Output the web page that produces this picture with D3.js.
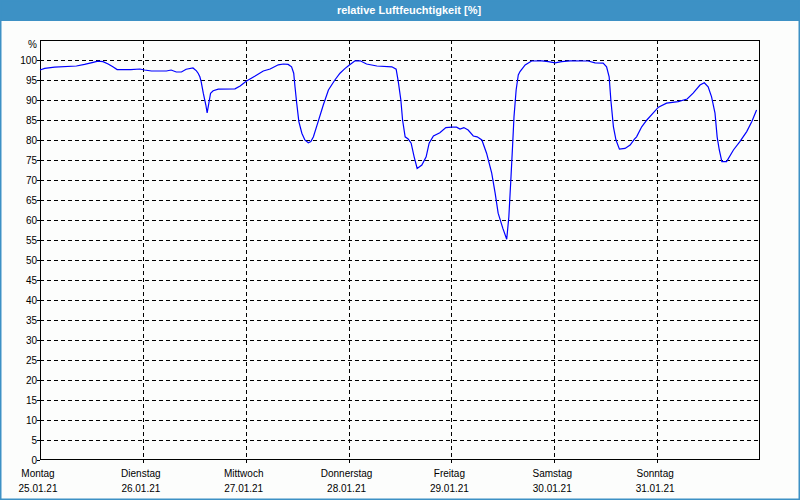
<!DOCTYPE html>
<html>
<head>
<meta charset="utf-8">
<script src="https://cdn.jsdelivr.net/npm/d3@7"></script>
<style>
  html, body { margin: 0; padding: 0; background: #ffffff; }
  svg { display: block; }
  text { font-family: "Liberation Sans", Arial, sans-serif; }
</style>
</head>
<body>
<svg id="chart" width="800" height="500"></svg>
<script>
// ---- data ----
const title = "relative Luftfeuchtigkeit [%]";
const unitLabel = "%";
const dayNames = ["Montag", "Dienstag", "Mittwoch", "Donnerstag", "Freitag", "Samstag", "Sonntag"];
const dayDates = ["25.01.21", "26.01.21", "27.01.21", "28.01.21", "29.01.21", "30.01.21", "31.01.21"];
const yTicks = [0, 5, 10, 15, 20, 25, 30, 35, 40, 45, 50, 55, 60, 65, 70, 75, 80, 85, 90, 95, 100];
// hours since Monday 25.01.21 00:00
const hours = [0, 1.1, 3.4, 8.5, 10.4, 12.4, 13.5, 14.7, 15.9, 17.0, 18.0, 21.2, 23.3, 24.4, 26.0, 29.5, 30.6, 31.8, 33.0, 34.1, 35.7, 36.5, 36.9, 37.3, 37.6, 38.1, 38.7, 39.0, 39.4, 39.8, 40.4, 41.6, 45.5, 46.7, 48.2, 50.2, 52.1, 53.7, 55.6, 56.8, 57.9, 58.7, 59.2, 59.5, 59.9, 60.4, 61.1, 61.8, 62.6, 63.2, 63.8, 64.9, 66.1, 67.3, 68.8, 70.0, 71.2, 72.2, 73.5, 74.7, 76.2, 78.6, 82.1, 83.1, 83.6, 84.2, 84.6, 85.2, 85.9, 86.6, 87.3, 88.0, 89.1, 90.1, 90.8, 91.8, 93.3, 94.7, 96.1, 97.2, 98.0, 98.9, 99.9, 101.1, 102.0, 103.1, 104.2, 105.4, 106.2, 106.9, 108.0, 108.9, 109.4, 109.9, 110.3, 110.6, 111.1, 111.6, 112.0, 113.2, 114.7, 117.1, 118.6, 120.2, 121.7, 123.7, 127.9, 129.5, 131.4, 132.2, 132.8, 133.2, 133.8, 134.4, 135.2, 136.5, 137.7, 138.7, 139.2, 140.4, 141.6, 143.1, 144.3, 146.2, 148.9, 151.0, 152.4, 154.0, 155.0, 155.9, 156.7, 157.5, 158.0, 158.5, 159.1, 160.2, 161.8, 163.3, 164.9, 166.1, 167.2];
const humidity = [97.5, 97.9, 98.2, 98.5, 98.9, 99.4, 99.7, 99.6, 99.0, 98.3, 97.6, 97.6, 97.75, 97.5, 97.25, 97.25, 97.5, 97.0, 97.0, 97.7, 98.0, 97.3, 96.7, 95.8, 94.6, 91.7, 88.75, 86.8, 89.2, 91.7, 92.3, 92.7, 92.8, 93.5, 94.75, 96.0, 97.25, 97.75, 98.8, 99.0, 98.9, 98.3, 96.7, 93.3, 89.2, 84.6, 81.7, 80.0, 79.3, 79.6, 80.8, 84.6, 88.75, 92.5, 95.0, 96.7, 97.9, 98.75, 99.8, 99.8, 99.0, 98.5, 98.3, 97.7, 94.6, 90.0, 85.0, 80.8, 80.25, 79.2, 75.8, 72.9, 73.75, 75.8, 79.2, 81.0, 81.8, 83.1, 83.2, 83.2, 82.75, 83.1, 82.5, 81.0, 80.8, 80.0, 76.7, 71.7, 66.7, 61.7, 57.9, 55.2, 60.8, 70.8, 79.2, 85.8, 92.5, 96.25, 97.1, 98.75, 99.75, 99.8, 99.6, 99.3, 99.6, 99.8, 99.75, 99.3, 99.2, 98.3, 95.8, 90.0, 83.3, 80.0, 77.7, 77.9, 78.75, 80.2, 80.8, 83.3, 85.0, 86.8, 88.2, 89.2, 89.6, 90.25, 91.7, 93.75, 94.3, 93.3, 90.8, 86.7, 80.8, 77.5, 74.6, 74.6, 77.5, 79.6, 82.1, 84.6, 87.5];

// ---- layout ----
const W = 800, H = 500;
const plot = { left: 40, top: 40, right: 760, bottom: 460 };

const svg = d3.select("#chart");

// background & frame
svg.append("rect").attr("x", 0).attr("y", 0).attr("width", W).attr("height", H).attr("fill", "#fcfdfc");
svg.append("rect").attr("x", 0).attr("y", 0).attr("width", W).attr("height", 21).attr("fill", "#3d91c5");
svg.append("rect").attr("x", 0.5).attr("y", 0.5).attr("width", W - 1).attr("height", H - 1)
  .attr("fill", "none").attr("stroke", "#3d91c5").attr("stroke-width", 2);

svg.append("text").attr("x", 409).attr("y", 14).attr("text-anchor", "middle")
  .attr("fill", "#ffffff").attr("font-size", 11).attr("font-weight", "bold").text(title);

const x = d3.scaleLinear().domain([0, 168]).range([plot.left, plot.right]);
const y = d3.scaleLinear().domain([0, 105]).range([plot.bottom, plot.top]);

// horizontal grid
svg.append("g").selectAll("line").data(yTicks.filter(d => d > 0)).join("line")
  .attr("x1", plot.left).attr("x2", plot.right)
  .attr("y1", d => Math.round(y(d)) + 0.5).attr("y2", d => Math.round(y(d)) + 0.5)
  .attr("stroke", "#000").attr("stroke-width", 1).attr("stroke-dasharray", "4,3");

// vertical grid (day boundaries)
const dayTicks = d3.range(1, 7).map(d => d * 24);
svg.append("g").selectAll("line").data(dayTicks).join("line")
  .attr("x1", d => Math.round(x(d)) + 0.5).attr("x2", d => Math.round(x(d)) + 0.5)
  .attr("y1", plot.top).attr("y2", plot.bottom + 3)
  .attr("stroke", "#000").attr("stroke-width", 1).attr("stroke-dasharray", "4,3");

// plot frame
svg.append("rect").attr("x", plot.left + 0.5).attr("y", plot.top + 0.5)
  .attr("width", plot.right - plot.left - 1).attr("height", plot.bottom - plot.top - 1)
  .attr("fill", "none").attr("stroke", "#000").attr("stroke-width", 1);

// y axis labels
svg.append("g").selectAll("text").data(yTicks).join("text")
  .attr("x", 37).attr("y", d => y(d) + 3.5).attr("text-anchor", "end")
  .attr("font-size", 10).attr("fill", "#000").text(d => d);
svg.append("text").attr("x", 37).attr("y", 48).attr("text-anchor", "end")
  .attr("font-size", 10).attr("fill", "#000").text(unitLabel);

// y tick marks
svg.append("g").selectAll("line").data(yTicks).join("line")
  .attr("x1", plot.left - 3).attr("x2", plot.left)
  .attr("y1", d => Math.round(y(d)) + 0.5).attr("y2", d => Math.round(y(d)) + 0.5)
  .attr("stroke", "#000");

// x labels
const dayIdx = d3.range(7);
svg.append("g").selectAll("text").data(dayIdx).join("text")
  .attr("x", d => x(d * 24) - 2).attr("y", 477).attr("text-anchor", "middle")
  .attr("font-size", 10).attr("fill", "#000").text(d => dayNames[d]);
svg.append("g").selectAll("text").data(dayIdx).join("text")
  .attr("x", d => x(d * 24) - 2).attr("y", 492).attr("text-anchor", "middle")
  .attr("font-size", 10).attr("fill", "#000").text(d => dayDates[d]);

// line
const pts = hours.map((h, i) => [h, humidity[i]]);
const line = d3.line().x(d => x(d[0])).y(d => y(d[1])).curve(d3.curveLinear);
svg.append("path").datum(pts).attr("d", line)
  .attr("fill", "none").attr("stroke", "#0000ff").attr("stroke-width", 1.2);
</script>
</body>
</html>
